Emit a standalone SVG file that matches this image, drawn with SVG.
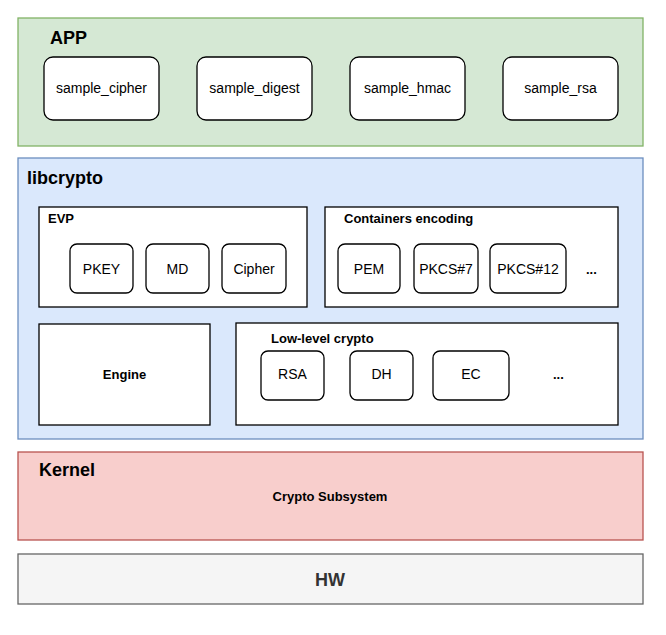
<svg xmlns="http://www.w3.org/2000/svg" width="666" height="635" viewBox="0 0 666 635">
<style>
text{font-family:"Liberation Sans",Arial,sans-serif;fill:#000}
.b{fill:#fff;stroke:#000;stroke-width:1.3}
.t{font-size:14px;text-anchor:middle}
.h{font-size:18px;font-weight:bold}
.s{font-size:13px;font-weight:bold}
</style>
<rect width="666" height="635" fill="#fff"/>
<g id="app">
<rect x="18" y="18" width="625" height="128" fill="#d5e8d4" stroke="#82b366" stroke-width="1.3"/>
<text x="50" y="44" class="h">APP</text>
</g>
<g id="sample_cipher"><rect class="b" x="44" y="57" width="115" height="63" rx="9"/><text class="t" x="101.5" y="93">sample_cipher</text></g>
<g id="sample_digest"><rect class="b" x="197" y="57" width="115" height="63" rx="9"/><text class="t" x="254.5" y="93">sample_digest</text></g>
<g id="sample_hmac"><rect class="b" x="350" y="57" width="115" height="63" rx="9"/><text class="t" x="407.5" y="93">sample_hmac</text></g>
<g id="sample_rsa"><rect class="b" x="503" y="57" width="115" height="63" rx="9"/><text class="t" x="560.5" y="93">sample_rsa</text></g>
<g id="libcrypto">
<rect x="18" y="158" width="625" height="281" fill="#dae8fc" stroke="#6c8ebf" stroke-width="1.3"/>
<text x="27" y="184" class="h">libcrypto</text>
</g>
<g id="evp"><rect class="b" x="39" y="207" width="268" height="100"/><text class="s" x="48" y="223">EVP</text></g>
<g id="pkey"><rect class="b" x="70" y="244" width="63" height="49" rx="7"/><text class="t" x="101.5" y="274">PKEY</text></g>
<g id="md"><rect class="b" x="146" y="244" width="63" height="49" rx="7"/><text class="t" x="177.5" y="274">MD</text></g>
<g id="cipher"><rect class="b" x="222" y="244" width="64" height="49" rx="7"/><text class="t" x="254" y="274">Cipher</text></g>
<g id="containers"><rect class="b" x="325" y="207" width="293" height="100"/><text class="s" x="344" y="223">Containers encoding</text></g>
<g id="pem"><rect class="b" x="338" y="244" width="62" height="49" rx="7"/><text class="t" x="369" y="274">PEM</text></g>
<g id="pkcs7"><rect class="b" x="414" y="244" width="64" height="49" rx="7"/><text class="t" x="446" y="274">PKCS#7</text></g>
<g id="pkcs12"><rect class="b" x="490" y="244" width="76" height="49" rx="7"/><text class="t" x="528" y="274">PKCS#12</text></g>
<g id="more1"><text class="s" x="586" y="274">...</text></g>
<g id="engine"><rect class="b" x="39" y="324" width="171" height="101"/><text class="s" x="124.5" y="379" text-anchor="middle">Engine</text></g>
<g id="lowlevel"><rect class="b" x="236" y="323" width="382" height="102"/><text class="s" x="271" y="343">Low-level crypto</text></g>
<g id="rsa"><rect class="b" x="261" y="351" width="63" height="49" rx="7"/><text class="t" x="292.5" y="379">RSA</text></g>
<g id="dh"><rect class="b" x="350" y="351" width="63" height="49" rx="7"/><text class="t" x="381.5" y="379">DH</text></g>
<g id="ec"><rect class="b" x="433" y="351" width="76" height="49" rx="7"/><text class="t" x="471" y="379">EC</text></g>
<g id="more2"><text class="s" x="553" y="379">...</text></g>
<g id="kernel">
<rect x="18" y="452" width="625" height="88" fill="#f8cecc" stroke="#b85450" stroke-width="1.3"/>
<text x="39" y="476" class="h">Kernel</text>
<text x="330" y="501" class="s" text-anchor="middle">Crypto Subsystem</text>
</g>
<g id="hw">
<rect x="18" y="554" width="625" height="50" fill="#f5f5f5" stroke="#666" stroke-width="1.3"/>
<text x="330" y="586" class="h" text-anchor="middle" style="fill:#333">HW</text>
</g>
<g id="connectors"/>
</svg>
